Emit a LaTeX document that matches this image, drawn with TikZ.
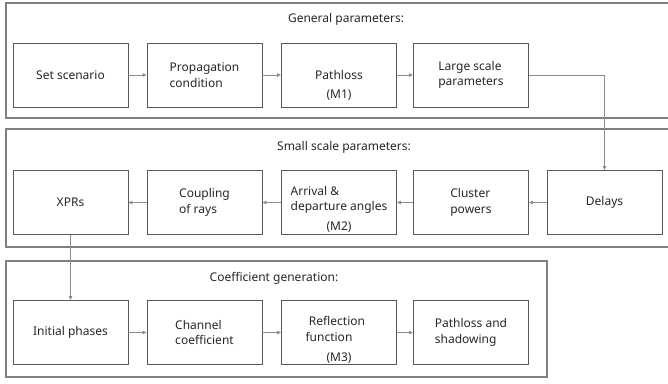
\documentclass[tikz,border=0pt]{standalone}
\usepackage{fontspec}
\setmainfont{Noto Sans}
\usetikzlibrary{arrows.meta}
\definecolor{boxc}{HTML}{595959}
\definecolor{panc}{HTML}{7F7F7F}
\definecolor{linec}{HTML}{8C8C8C}
\begin{document}
\begin{tikzpicture}[x=1pt,y=-1pt,
  every node/.style={font=\fontsize{12}{15.5}\selectfont, text=black!85},
  stepbox/.style={draw=boxc, line width=0.9pt, minimum width=115pt, minimum height=64pt, inner sep=0pt},
  panel/.style={draw=panc, line width=1.1pt},
  conn/.style={draw=linec, line width=0.8pt, -{Triangle[length=4pt,width=3.5pt]}},
  mlabel/.style={inner sep=0pt}
]
\useasboundingbox (0,0) rectangle (668,383);
% panels
\draw[panel] (668,3) -- (6,3) -- (6,118) -- (668,118);
\draw[panel] (668,129) -- (6,129) -- (6,247) -- (668,247);
\draw[panel] (6,261) rectangle (547,377);
% titles
\node (t1) at (346,19) {General parameters:};
\node (t2) at (344,147) {Small scale parameters:};
\node (t3) at (274,278) {Coefficient generation:};
% row 1
\node[stepbox] (a1) at (70.5,75) {Set scenario};
\node[stepbox, align=left] (a2) at (204.5,75) {Propagation\\condition};
\node[stepbox] (a3) at (339,75) {Pathloss};
\node[mlabel] (m1) at ([yshift=12pt]a3.south) {(M1)};
\node[stepbox, align=left] (a4) at (471,75) {Large scale\\parameters};
% row 2
\node[stepbox] (b1) at (70.5,202.5) {XPRs};
\node[stepbox, align=left] (b2) at (204.5,202.5) {Coupling\\of rays};
\node[stepbox, align=left] (b3) at (339,202.5) {};
\node[mlabel, align=left] (b3t) at (339,200) {Arrival \&\\departure angles};
\node[mlabel] (m2) at ([yshift=8pt]b3.south) {(M2)};
\node[stepbox, align=left] (b4) at (471,202.5) {Cluster\\powers};
\node[stepbox] (b5) at (604.5,202.5) {Delays};
% row 3
\node[stepbox] (c1) at (70.5,332.5) {Initial phases};
\node[stepbox, align=left] (c2) at (204.5,332.5) {Channel\\coefficient};
\node[stepbox] (c3) at (339,332.5) {};
\node[mlabel, align=center] (c3t) at (337,329) {Reflection\\function\hspace*{16pt}};
\node[mlabel] (m3) at ([yshift=7pt]c3.south) {(M3)};
\node[stepbox, align=left] (c4) at (471,332.5) {Pathloss and\\shadowing};
% connectors
\draw[conn] (a1) -- (a2);
\draw[conn] (a2) -- (a3);
\draw[conn] (a3) -- (a4);
\draw[conn] (a4.east) -| (b5.north);
\draw[conn] (b5) -- (b4);
\draw[conn] (b4) -- (b3);
\draw[conn] (b3) -- (b2);
\draw[conn] (b2) -- (b1);
\draw[conn] (b1.south) -- (c1.north);
\draw[conn] (c1) -- (c2);
\draw[conn] (c2) -- (c3);
\draw[conn] (c3) -- (c4);
\end{tikzpicture}
\end{document}
